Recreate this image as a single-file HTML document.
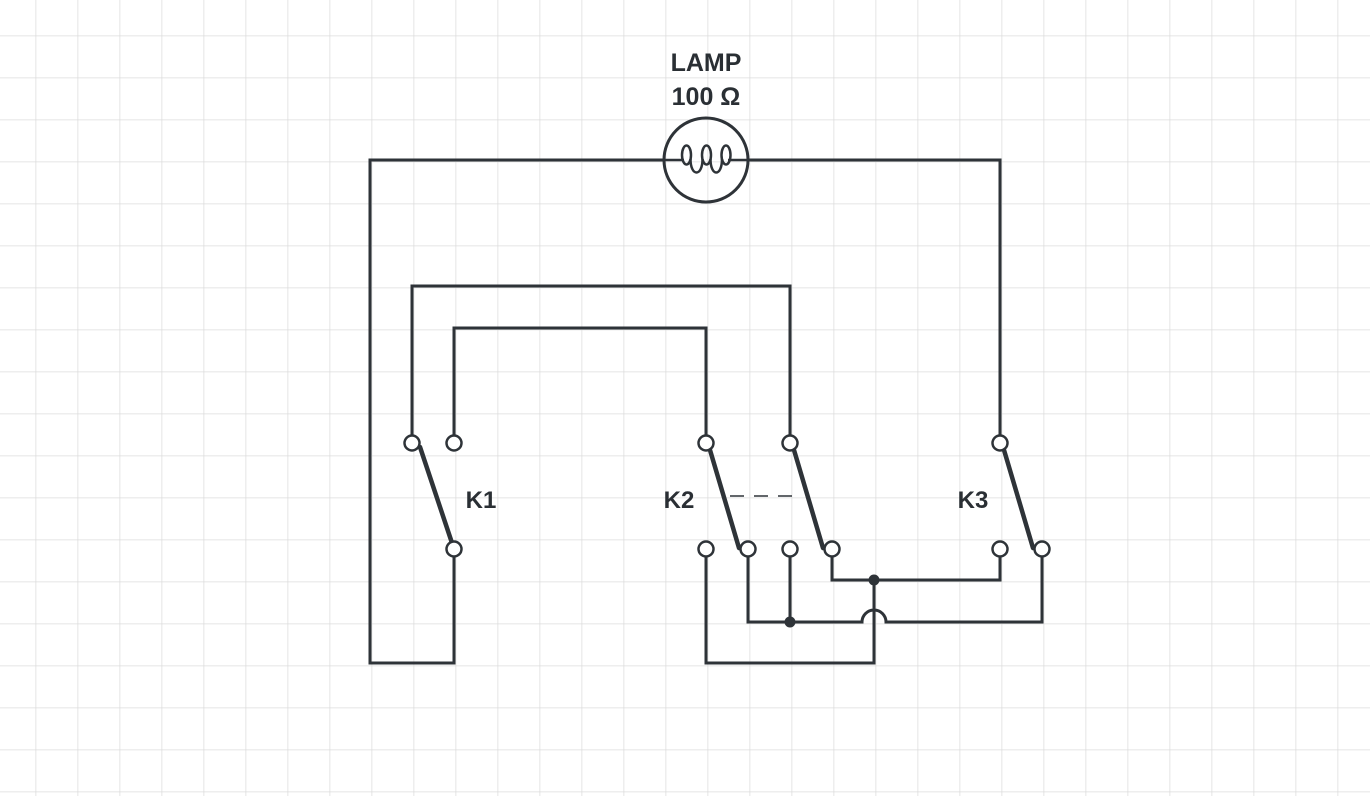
<!DOCTYPE html>
<html><head><meta charset="utf-8"><style>
html,body{margin:0;padding:0;background:#fff;}
svg{display:block;}
text{font-family:"Liberation Sans",sans-serif;font-weight:bold;fill:#2a2f34;}
</style></head><body>
<svg width="1370" height="796" xmlns="http://www.w3.org/2000/svg">
<defs>
<pattern id="g" x="35.5" y="35.5" width="42" height="42" patternUnits="userSpaceOnUse">
<path d="M0 0H42M0 0V42" stroke="#dcdcdc" stroke-width="1.5" fill="none"/>
</pattern>
</defs>
<rect width="1370" height="796" fill="url(#g)"/>
<g stroke="#2e3338" stroke-width="3" fill="none" stroke-linejoin="miter">
<path d="M664 160H370V663H454V549"/>
<path d="M748 160H1000V443"/>
<path d="M412 443V286H790V443"/>
<path d="M454 443V328H706V443"/>
<path d="M706 549V663H874V580"/>
<path d="M748 549V622H862A12 12 0 0 1 886 622H1042V549"/>
<path d="M790 549V622"/>
<path d="M832 549V580H1000V549"/>
<circle cx="706" cy="160" r="42"/>
</g>
<g stroke="#2e3338" stroke-width="2.5" fill="none">
<path d="M664 160H684"/>
<path d="M728 160H748"/>
<ellipse cx="686.5" cy="155" rx="4.5" ry="9.5"/>
<ellipse cx="706.5" cy="155" rx="4.5" ry="9.5"/>
<ellipse cx="726" cy="155" rx="4.5" ry="9.5"/>
<path d="M690.5 159C690.5 177 702.5 177 702.5 159"/>
<path d="M710.5 159C710.5 177 722 177 722 159"/>
</g>
<g stroke="#2e3338" stroke-width="4.5" stroke-linecap="round">
<line x1="420" y1="447" x2="452" y2="543"/>
<line x1="710" y1="450" x2="739" y2="548"/>
<line x1="794" y1="450" x2="823" y2="548"/>
<line x1="1004" y1="450" x2="1033" y2="548"/>
</g>
<line x1="730" y1="496" x2="800" y2="496" stroke="#2e3338" stroke-width="1.5" stroke-dasharray="14,10"/>
<g stroke="#2e3338" stroke-width="2.5" fill="#fff">
<circle cx="412" cy="443" r="7.5"/><circle cx="454" cy="443" r="7.5"/><circle cx="454" cy="549" r="7.5"/>
<circle cx="706" cy="443" r="7.5"/><circle cx="790" cy="443" r="7.5"/>
<circle cx="706" cy="549" r="7.5"/><circle cx="748" cy="549" r="7.5"/><circle cx="790" cy="549" r="7.5"/><circle cx="832" cy="549" r="7.5"/>
<circle cx="1000" cy="443" r="7.5"/><circle cx="1000" cy="549" r="7.5"/><circle cx="1042" cy="549" r="7.5"/>
</g>
<circle cx="874" cy="580" r="5.5" fill="#2e3338"/>
<circle cx="790" cy="622" r="5.5" fill="#2e3338"/>
<text x="706" y="71" font-size="25" text-anchor="middle">LAMP</text>
<text x="706" y="105" font-size="25" text-anchor="middle">100 Ω</text>
<text x="481" y="508" font-size="24" text-anchor="middle">K1</text>
<text x="679" y="508" font-size="24" text-anchor="middle">K2</text>
<text x="973" y="508" font-size="24" text-anchor="middle">K3</text>
</svg>
</body></html>
